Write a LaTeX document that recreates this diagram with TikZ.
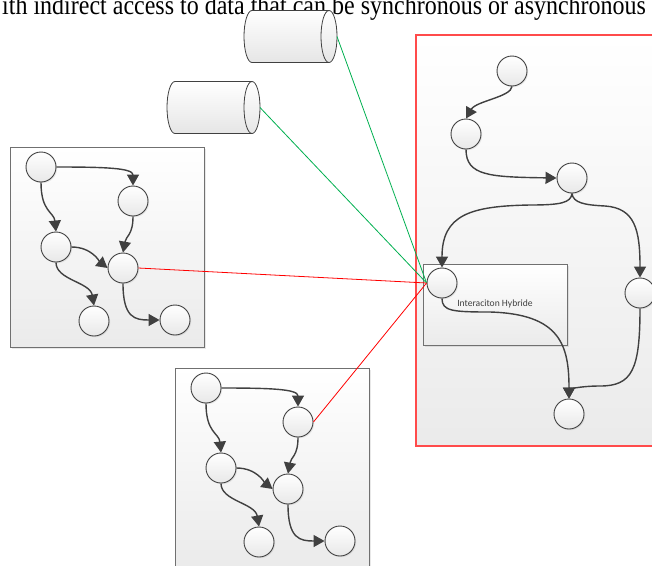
\documentclass[tikz,border=0pt]{standalone}
\usepackage{fontspec}
\setmainfont{Liberation Serif}
\newfontfamily\calibrifont{Carlito}
\usetikzlibrary{arrows.meta,shadows}
\definecolor{edgegray}{HTML}{404040}
\definecolor{boxgray}{HTML}{707070}
\definecolor{linkgreen}{HTML}{00B050}
\definecolor{linkred}{HTML}{FF0000}
\definecolor{panelred}{HTML}{FF4B4B}
\tikzset{
  blob/.style={circle, draw=edgegray, line width=0.9pt, minimum size=30pt, inner sep=0pt,
    top color=white, bottom color=black!9,
    drop shadow={shadow xshift=1.2pt, shadow yshift=-1.2pt, opacity=0.15}},
  panel/.style={rectangle, draw=boxgray, line width=0.9pt, top color=white, bottom color=black!8,
    inner sep=0pt, drop shadow={shadow xshift=2pt, shadow yshift=-2pt, opacity=0.18}},
  redpanel/.style={rectangle, draw=panelred, line width=1.2pt, top color=white, bottom color=black!8,
    inner sep=0pt},
  flow/.style={draw=edgegray, line width=1.4pt, -{Triangle[length=11pt,width=12pt]}},
  greenlink/.style={draw=linkgreen, line width=0.8pt},
  redlink/.style={draw=linkred, line width=0.8pt},
  drumline/.style={draw=edgegray, line width=0.8pt},
  drum/.pic={
    \path[drumline, top color=white, bottom color=black!10]
      (38.5,-26) -- (-38.5,-26)
      .. controls (-42.9,-26) and (-46.5,-14.4) .. (-46.5,0)
      .. controls (-46.5,14.4) and (-42.9,26) .. (-38.5,26)
      -- (38.5,26)
      .. controls (42.9,26) and (46.5,14.4) .. (46.5,0)
      .. controls (46.5,-14.4) and (42.9,-26) .. (38.5,-26) -- cycle;
    \draw[drumline] (38.5,-26)
      .. controls (34.1,-26) and (30.5,-14.4) .. (30.5,0)
      .. controls (30.5,14.4) and (34.1,26) .. (38.5,26);
    \coordinate (-e) at (46.5,0);
  }
}
\newcommand\mygroup[1]{%
  \node[panel, minimum width=194pt, minimum height=200pt] (g#1) at (107,247) {};
  \node[blob] (a#1) at (41,167) {};
  \node[blob] (b#1) at (133,201) {};
  \node[blob] (c#1) at (56,247) {};
  \node[blob] (d#1) at (123,268) {};
  \node[blob] (e#1) at (94,321) {};
  \node[blob] (f#1) at (175,320) {};
  \draw[flow] (a#1.east) .. controls (105,167) and (133,168) .. (b#1.north);
  \draw[flow] (a#1.south) .. controls (41,212) and (54,212) .. (c#1.north);
  \draw[flow] (b#1.south) .. controls (133,235) and (126,236) .. (d#1.north);
  \draw[flow] (c#1.east) .. controls (92,247) and (100,262) .. (d#1.west);
  \draw[flow] (c#1.south) .. controls (56,280) and (90,282) .. (e#1.north);
  \draw[flow] (d#1.south) .. controls (123,318) and (135,320) .. (f#1.west);
}
\begin{document}
\begin{tikzpicture}[x=1pt,y=-1pt]
\clip (0,0) rectangle (652,565);
\fill[white] (0,0) rectangle (652,565);

% title (clipped at the top edge, as in the reference)
\node[anchor=base west, inner sep=0pt, font=\fontsize{24}{28}\selectfont] (title) at (2,14.3)
  {\scalebox{1}[1.14]{ith indirect access to data that can be synchronous or asynchronous}};

% right panel
\node[redpanel, minimum width=260pt, minimum height=411pt] (rp) at (546,240.5) {};

% cylinders
\pic (d1) at (290.5,36.5) {drum};
\pic (d2) at (213.5,107.5) {drum};

% left groups
\mygroup{1}
\begin{scope}[shift={(165,221)}]
  \mygroup{2}
\end{scope}

% inner box
\node[panel, minimum width=144pt, minimum height=81pt] (ib) at (495,304.5) {};
\node[inner sep=0pt, text=edgegray, font=\calibrifont\fontsize{9.6}{11}\selectfont] (iblabel) at (495,304) {Interaciton Hybride};

% right graph nodes
\node[blob] (r1) at (512,71) {};
\node[blob] (r2) at (466,134) {};
\node[blob] (r3) at (572,178) {};
\node[blob] (r4) at (442,283) {};
\node[blob] (r5) at (640,293) {};
\node[blob] (r6) at (569,414) {};

\draw[flow] (r1.south) .. controls (511,97) and (476,101) .. (r2.north);
\draw[flow] (r2.south) .. controls (466,176) and (490,177) .. (r3.west);
\draw[flow] (r3.south) .. controls (571,203) and (560,205) .. (530,205)
  .. controls (470,206) and (442,215) .. (r4.north);
\draw[flow] (r3.south) .. controls (573,203) and (585,205) .. (605,206)
  .. controls (635,208) and (640,230) .. (r5.north);
\draw[flow] (r4.south) .. controls (442,311) and (452,312) .. (490,312)
  .. controls (560,314) and (569,345) .. (r6.north);
\draw[flow] (r5.south) .. controls (640,370) and (632,386) .. (600,386)
  .. controls (578,386) and (569,390) .. (r6.north);

% links
\draw[greenlink] (d1-e) -- (r4.west);
\draw[greenlink] (d2-e) -- (r4.west);
\draw[redlink] (d1.east) -- (r4.west);
\draw[redlink] (b2.east) -- (r4.west);
\end{tikzpicture}
\end{document}
